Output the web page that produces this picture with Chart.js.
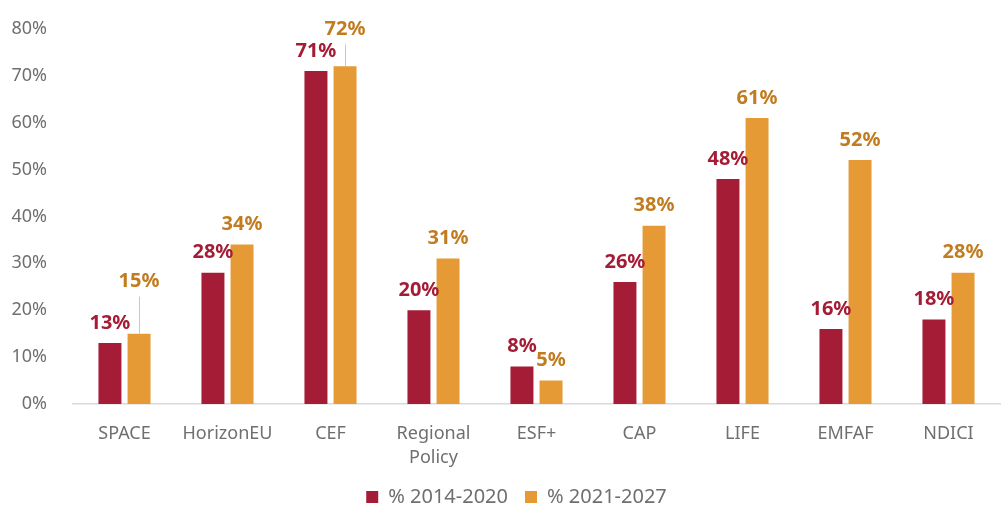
<!DOCTYPE html>
<html>
<head>
<meta charset="utf-8">
<title>Share by programme</title>
<script src="https://cdn.jsdelivr.net/npm/chart.js"></script>
<style>
  html, body { margin: 0; padding: 0; background: #fff; }
  #wrap { width: 1003px; height: 507px; }
</style>
</head>
<body>
<div id="wrap"><canvas id="barChart"></canvas></div>
<script>
var categories = ['SPACE', 'HorizonEU', 'CEF', ['Regional', 'Policy'], 'ESF+', 'CAP', 'LIFE', 'EMFAF', 'NDICI'];
var series1Name = '% 2014-2020';
var series2Name = '% 2021-2027';
var values2014 = [13, 28, 71, 20, 8, 26, 48, 16, 18];
var values2021 = [15, 34, 72, 31, 5, 38, 61, 52, 28];
var yTicks = [0, 10, 20, 30, 40, 50, 60, 70, 80];

var red = '#A41C36';
var orange = '#E59A36';
var orangeText = '#C27C20';
var grey = '#6f6f6f';
var font = '"Noto Sans", "DejaVu Sans", sans-serif';

// extra lift (px) for labels that sit on a leader line, per dataset
var leaderLift = [
  [0, 0, 0, 0, 0, 0, 0, 0, 0],
  [32, 0, 17, 0, 0, 0, 0, 0, 0]
];

var valueLabels = {
  id: 'valueLabels',
  afterDatasetsDraw: function(chart) {
    var ctx = chart.ctx;
    ctx.save();
    ctx.font = 'bold 20px ' + font;
    ctx.textAlign = 'center';
    ctx.textBaseline = 'middle';
    chart.data.datasets.forEach(function(ds, di) {
      var meta = chart.getDatasetMeta(di);
      meta.data.forEach(function(bar, i) {
        var lift = leaderLift[di][i];
        var y = bar.y - 20 - lift;
        if (lift > 0) {
          ctx.strokeStyle = '#c8c8c8';
          ctx.lineWidth = 1;
          ctx.beginPath();
          ctx.moveTo(Math.round(bar.x) + 0.5, y + 15);
          ctx.lineTo(Math.round(bar.x) + 0.5, bar.y);
          ctx.stroke();
        }
        ctx.fillStyle = di === 0 ? red : orangeText;
        ctx.fillText(ds.data[i] + '%', bar.x, y);
      });
    });
    ctx.restore();
  }
};

var ctx = document.getElementById('barChart').getContext('2d');
var chart = new Chart(ctx, {
  type: 'bar',
  data: {
    labels: categories,
    datasets: [{
      label: series1Name,
      data: values2014,
      backgroundColor: red,
      categoryPercentage: 0.565,
      barPercentage: 0.79
    }, {
      label: series2Name,
      data: values2021,
      backgroundColor: orange,
      categoryPercentage: 0.565,
      barPercentage: 0.79
    }]
  },
  options: {
    responsive: true,
    maintainAspectRatio: false,
    animation: false,
    // legend in the original sits a bit right of the page centre
    layout: { padding: { top: 5, right: -30, left: 0, bottom: -10 } },
    plugins: {
      tooltip: { enabled: false },
      legend: {
        position: 'bottom',
        labels: {
          font: { family: font, size: 20 },
          color: grey,
          boxWidth: 12,
          boxHeight: 12,
          padding: 17
        }
      }
    },
    scales: {
      x: {
        grid: { display: false },
        border: { color: '#d9d9d9', width: 1.5 },
        ticks: {
          font: { family: font, size: 18, lineHeight: 1.33 },
          color: grey,
          padding: 10,
          maxRotation: 0
        },
        afterFit: function(scale) { scale.height = 66; }
      },
      y: {
        min: 0,
        max: 80,
        grid: { display: false },
        border: { display: false },
        afterBuildTicks: function(scale) {
          scale.ticks = yTicks.map(function(v) { return { value: v }; });
        },
        ticks: {
          font: { family: font, size: 18 },
          color: grey,
          padding: 18,
          callback: function(v) { return v + '%'; }
        },
        afterFit: function(scale) { scale.width = 73; }
      },
      // empty spacer on the right so the plot still ends at x=1000
      spacer: {
        position: 'right',
        grid: { display: false },
        border: { display: false },
        ticks: { display: false },
        afterFit: function(scale) { scale.width = 33; }
      }
    }
  },
  plugins: [valueLabels]
});
</script>
</body>
</html>
